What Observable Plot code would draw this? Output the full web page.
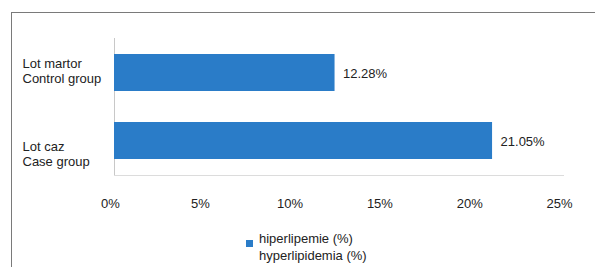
<!DOCTYPE html>
<html>
<head>
<meta charset="utf-8">
<script src="https://cdn.jsdelivr.net/npm/d3@7"></script>
<script src="https://cdn.jsdelivr.net/npm/@observablehq/plot@0.6"></script>
<style>
  html, body { margin: 0; padding: 0; background: #fff; }
  #wrap { position: relative; width: 595px; height: 267px; overflow: hidden; font-family: "Liberation Sans", Arial, sans-serif; color: #222; }
  #frame { position: absolute; left: 11px; top: 12px; right: -10px; bottom: -10px; border-left: 1.5px solid #7a7a7a; border-top: 1.5px solid #7a7a7a; }
  #chart { position: absolute; left: 0; top: 0; }
  #legend { position: absolute; left: 246px; top: 231px; font-size: 13px; line-height: 16.5px; }
  #legend .sw { position: absolute; left: 0; top: 9px; width: 7px; height: 7px; }
  #legend .tx { position: absolute; left: 13px; top: 0; white-space: nowrap; }
</style>
</head>
<body>
<div id="wrap">
  <div id="frame"></div>
  <div id="chart"></div>
  <div id="legend"></div>
</div>
<script>
const categories = ["Lot martor\nControl group", "Lot caz\nCase group"];
const values = [12.28, 21.05];
const xTicks = [0, 5, 10, 15, 20, 25];
const seriesLabel = ["hiperlipemie (%)", "hyperlipidemia (%)"];
const barColor = "#2a7cc8";

const data = categories.map((c, i) => ({category: c, value: values[i]}));

const chart = Plot.plot({
  width: 595,
  height: 225,
  marginLeft: 114,
  marginRight: 32,
  marginTop: 38,
  marginBottom: 50,
  style: {background: "transparent", fontFamily: "Liberation Sans, Arial, sans-serif", fontSize: "13px", color: "#222", overflow: "visible"},
  x: {domain: [0, 25], axis: null},
  y: {domain: categories, paddingInner: 0.45, paddingOuter: 0.22, axis: null},
  marks: [
    Plot.frame({anchor: "bottom", stroke: "#dcdcdc"}),
    Plot.ruleX([0], {stroke: "#c8c8c8"}),
    Plot.axisX(xTicks, {tickFormat: d => d + "%", tickSize: 0, tickPadding: 23, label: null, dx: -4, fill: "#222"}),
    Plot.barX(data, {x: "value", y: "category", fill: barColor}),
    Plot.text(data, {x: "value", y: "category", text: d => d.value.toFixed(2) + "%", textAnchor: "start", dx: 8, dy: 1, fill: "#222"}),
    Plot.text(data.filter((d, i) => i === 0), {y: "category", text: "category", frameAnchor: "left", textAnchor: "start", dx: -92, dy: -2, lineHeight: 1.17, fill: "#222"}),
    Plot.text(data.filter((d, i) => i === 1), {y: "category", text: "category", frameAnchor: "left", textAnchor: "start", dx: -92, dy: 13, lineHeight: 1.17, fill: "#222"})
  ]
});
document.getElementById("chart").appendChild(chart);

const legend = document.getElementById("legend");
const sw = document.createElement("div");
sw.className = "sw";
sw.style.background = barColor;
legend.appendChild(sw);
const tx = document.createElement("div");
tx.className = "tx";
tx.innerHTML = seriesLabel.join("<br>");
legend.appendChild(tx);
</script>
</body>
</html>
